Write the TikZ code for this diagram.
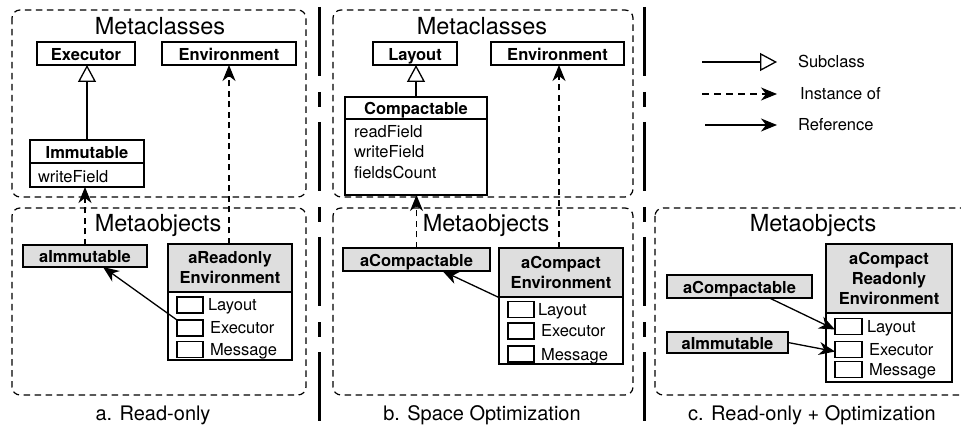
\documentclass[tikz,border=0pt]{standalone}
\usepackage{fontspec}
\setmainfont{TeX Gyre Heros}
\usetikzlibrary{arrows.meta}
\begin{document}
\begin{tikzpicture}[x=1pt,y=-1pt,
  every node/.style={inner sep=0pt, outer sep=0pt},
  container/.style={draw, line width=1.2pt, dash pattern=on 6.5pt off 4.5pt, rounded corners=8pt},
  title/.style={font=\fontsize{23.5}{26}\selectfont, anchor=base},
  caption/.style={font=\fontsize{20}{24}\selectfont, anchor=base},
  boxed/.style={draw, line width=1.3pt, font=\fontsize{16.5}{20}\selectfont\bfseries, align=center},
  cls/.style={boxed, text height=14pt, text depth=0pt},
  obj/.style={cls, fill=black!13},
  objhead/.style={boxed, fill=black!13},
  body/.style={draw, line width=1.3pt},
  member/.style={font=\fontsize{16.5}{20}\selectfont, anchor=base west},
  slot/.style={draw, line width=1.3pt, minimum width=26pt, minimum height=16pt},
  slotlbl/.style={font=\fontsize{16.5}{20}\selectfont, anchor=west, text height=12pt, text depth=0pt},
  subcl/.style={line width=1.3pt, -{Triangle[length=17pt, width=18pt, fill=white]}},
  inst/.style={line width=1.2pt, dash pattern=on 6pt off 4.5pt, -{Stealth[length=16pt, width=13pt, inset=5pt]}},
  refr/.style={line width=1.3pt, -{Stealth[length=16pt, width=13pt, inset=5pt]}},
  sep/.style={line width=3pt, dash pattern=on 69pt off 16pt on 15pt off 15pt},
]
\useasboundingbox (0,0) rectangle (961,430);

% ---------------- separators
\draw[sep] (319,7) -- (319,423);
\draw[sep] (644,7) -- (644,423);

% ================= Panel a
\draw[container] (12,10) rectangle (306,197);
\node[title] (tA1) at (160,35) {Metaclasses};
\node[cls, minimum width=98pt, minimum height=23pt] (execA) at (86,53.5) {Executor};
\node[cls, minimum width=134pt, minimum height=23pt] (envA) at (229,53.5) {Environment};
\node[cls, minimum width=114pt, minimum height=23pt] (immH) at (87,151.5) {Immutable};
\node[body, minimum width=114pt, minimum height=24pt] (immB) at (87,175) {};
\node[member] (immM1) at (38,183) {writeField};

\draw[container] (12,208) rectangle (306,395);
\node[title] (tA2) at (158,232) {Metaobjects};
\node[obj, minimum width=124pt, minimum height=22pt] (aImmA) at (85,256) {aImmutable};
\node[objhead, minimum width=124pt, minimum height=48pt] (envHA) at (230,268) {aReadonly\\Environment};
\node[body, minimum width=124pt, minimum height=68pt] (envBA) at (230,326) {};
\node[slot] (sAL) at (190,305) {};
\node[slot] (sAE) at (190,328) {};
\node[slot] (sAM) at (190,349.5) {};
\node[slotlbl] at ([xshift=5pt]sAL.east) {Layout};
\node[slotlbl] at ([xshift=7pt]sAE.east) {Executor};
\node[slotlbl] at ([xshift=7pt]sAM.east) {Message};

\draw[subcl] (immH.north) -- (immH.north |- execA.south);
\draw[inst] (aImmA.north) -- (aImmA.north |- immB.south);
\draw[inst] ([xshift=-1pt]envHA.north) -- ([xshift=-1pt]envHA.north |- envA.south);
\draw[refr] (sAE.north west) -- ([xshift=18pt]aImmA.south);

\node[caption] (capA) at (153,420) {a. Read-only};

% ================= Panel b
\draw[container] (333,10) rectangle (633,197);
\node[title] (tB1) at (482,35) {Metaclasses};
\node[cls, minimum width=84pt, minimum height=23pt] (layB) at (415,53.5) {Layout};
\node[cls, minimum width=133pt, minimum height=23pt] (envB) at (557.5,53.5) {Environment};
\node[cls, minimum width=142pt, minimum height=22pt] (compH) at (416,108) {Compactable};
\node[body, minimum width=142pt, minimum height=76pt] (compB) at (416,157) {};
\node[member] (compM1) at (354,138) {readField};
\node[member] (compM2) at (354,158) {writeField};
\node[member] (compM3) at (354,179) {fieldsCount};

\draw[container] (333,208) rectangle (633,395);
\node[title] (tB2) at (486,232) {Metaobjects};
\node[obj, minimum width=147pt, minimum height=23pt] (aCompB) at (416.5,259.5) {aCompactable};
\node[objhead, minimum width=124pt, minimum height=49pt] (envHB) at (561,272.5) {aCompact\\Environment};
\node[body, minimum width=124pt, minimum height=67pt] (envBB) at (561,330.5) {};
\node[slot] (sBL) at (521,309.5) {};
\node[slot] (sBE) at (521,331) {};
\node[slot] (sBM) at (521,354) {};
\node[slotlbl] at ([xshift=4pt]sBL.east) {Layout};
\node[slotlbl] at ([xshift=7pt]sBE.east) {Executor};
\node[slotlbl] at ([xshift=7pt]sBM.east) {Message};

\draw[subcl] (compH.north) -- (compH.north |- layB.south);
\draw[inst] (aCompB.north) -- (aCompB.north |- compB.south);
\draw[inst] ([xshift=-2pt]envHB.north) -- ([xshift=-2pt]envHB.north |- envB.south);
\draw[refr] ([shift={(1pt,-1pt)}]envBB.north west) -- ([xshift=26pt]aCompB.south);

\node[caption] (capB) at (482,420) {b. Space Optimization};

% ================= Panel c : legend
\coordinate (lgS1) at (702,62);  \coordinate (lgS2) at (777,62);
\coordinate (lgI1) at (702,94);  \coordinate (lgI2) at (777,94);
\coordinate (lgR1) at (705,125); \coordinate (lgR2) at (777,125);
\draw[subcl] (lgS1) -- (lgS2);
\draw[inst, dash pattern=on 7pt off 5pt] (lgI1) -- (lgI2);
\draw[refr] (lgR1) -- (lgR2);
\node[slotlbl] (lgSt) at (798,62) {Subclass};
\node[slotlbl] (lgIt) at (800,94) {Instance of};
\node[slotlbl] (lgRt) at (798,125) {Reference};

% ================= Panel c
\begin{scope}
\clip (645,0) rectangle (961,430);
\draw[container] (655,208) rectangle (985,395);
\end{scope}
\node[title] (tC2) at (813,232) {Metaobjects};
\node[objhead, minimum width=126pt, minimum height=69pt] (envHC) at (889,278.5) {aCompact\\Readonly\\Environment};
\node[body, minimum width=126pt, minimum height=69pt] (envBC) at (889,347.5) {};
\node[slot, minimum width=27pt] (sCL) at (848.5,326.5) {};
\node[slot, minimum width=27pt] (sCE) at (848.5,349.5) {};
\node[slot, minimum width=27pt] (sCM) at (848.5,369.5) {};
\node[slotlbl] at ([xshift=5pt]sCL.east) {Layout};
\node[slotlbl] at ([xshift=7pt]sCE.east) {Executor};
\node[slotlbl] at ([xshift=7pt]sCM.east) {Message};
\node[obj, minimum width=145pt, minimum height=23pt] (aCompC) at (739.5,286.5) {aCompactable};
\node[obj, minimum width=121pt, minimum height=21pt] (aImmC) at (727.5,342.5) {aImmutable};

\draw[refr] ([xshift=30pt]aCompC.south) -- ([yshift=-3pt]sCL.west);
\draw[refr] (aImmC.east) -- ([yshift=-2pt]sCE.west);

\node[caption] (capC) at (812,420) {c. Read-only + Optimization};
\end{tikzpicture}
\end{document}
